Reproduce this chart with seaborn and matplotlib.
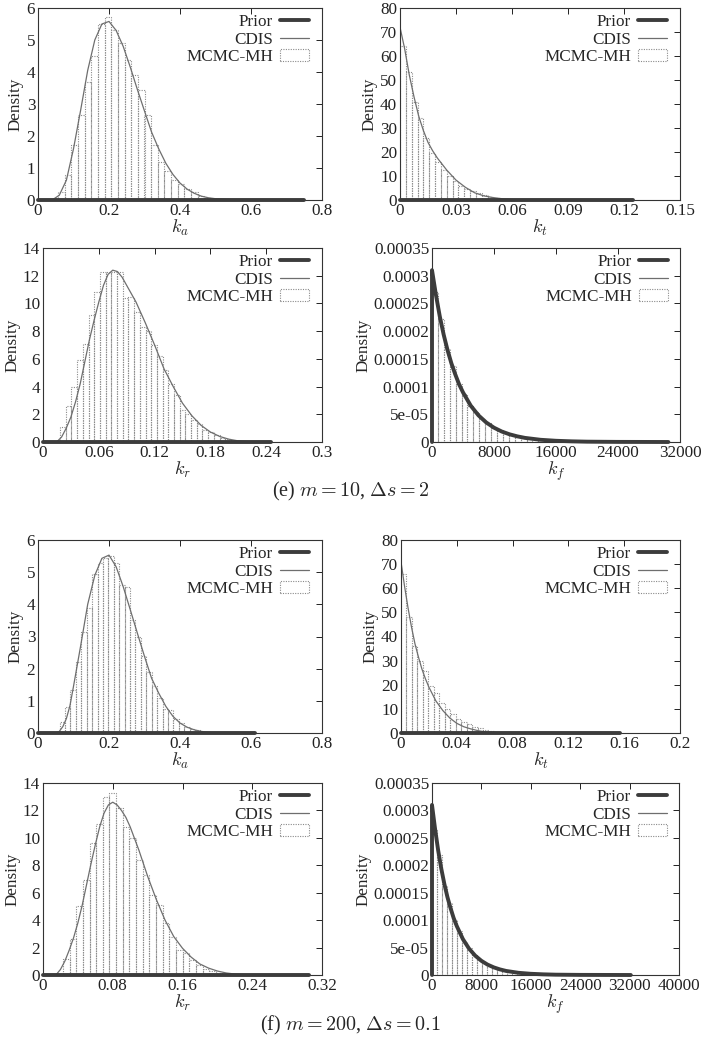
import numpy as np
import pandas as pd
import matplotlib
matplotlib.use('Agg')
import matplotlib.pyplot as plt
from matplotlib.lines import Line2D
from matplotlib.patches import Patch
import seaborn as sns

sns.set_theme(style='white')
plt.rcParams['font.family'] = ['Liberation Serif', 'DejaVu Serif']
plt.rcParams['mathtext.fontset'] = 'cm'

# ---- (e) m = 10, ds = 2 ----
ka_e_binw = 0.01875
ka_e_hist = [0, 0, 0.03, 0.25, 0.78, 1.72, 2.66, 3.7, 4.49, 5.5, 5.72, 5.3, 4.9, 4.38, 3.9,
             3.44, 2.66, 1.72, 1.18, 0.9, 0.63, 0.5, 0.35, 0.25, 0.12, 0.05, 0.02]
ka_e_cdis_x = [0, 0.04, 0.06, 0.08, 0.10, 0.12, 0.14, 0.16, 0.18, 0.20, 0.22, 0.24, 0.26, 0.28,
               0.30, 0.32, 0.34, 0.36, 0.38, 0.40, 0.42, 0.44, 0.46, 0.48, 0.50, 0.55, 0.75]
ka_e_cdis_y = [0, 0.0, 0.15, 0.62, 1.6, 2.8, 4.05, 5.0, 5.5, 5.58, 5.3, 4.8, 4.15, 3.45,
               2.78, 2.12, 1.6, 1.15, 0.8, 0.53, 0.34, 0.21, 0.12, 0.07, 0.04, 0.01, 0]
ka_e_prior_x = [0, 0.75]
ka_e_prior_y = [0, 0]

kt_e_binw = 0.003125
kt_e_hist = [64, 53.5, 41, 34, 26, 19.5, 16, 12.5, 10, 8, 5.8, 4.5, 3.8, 2.8, 2.0, 1.3, 0.8,
             0.5, 0.3, 0.15, 0.05]
kt_e_cdis_x = [0, 0.0025, 0.005, 0.0075, 0.01, 0.0125, 0.015, 0.0175, 0.02, 0.025, 0.03, 0.035,
               0.04, 0.045, 0.05, 0.055, 0.06, 0.07, 0.125]
kt_e_cdis_y = [72, 63, 52, 43, 35, 29, 24, 20.5, 17.5, 12.5, 8.3, 5.3, 3.0, 1.7, 1.0, 0.5,
               0.2, 0.03, 0]
kt_e_prior_x = [0, 0.125]
kt_e_prior_y = [0, 0]

kr_e_binw = 0.006125
kr_e_hist = [0, 0, 0.1, 1.1, 2.6, 4.0, 5.9, 7.1, 9.2, 10.8, 12.3, 12.3, 12.3, 12.3, 10.4, 10.5,
             9.4, 8.3, 8.0, 7.0, 6.2, 5.2, 4.2, 3.4, 2.3, 2.0, 1.6, 1.3, 0.9, 0.7, 0.5, 0.3, 0.2,
             0.1, 0.1, 0.05]
kr_e_cdis_x = [0, 0.015, 0.02, 0.025, 0.03, 0.035, 0.04, 0.045, 0.05, 0.055, 0.06, 0.065, 0.07,
               0.075, 0.08, 0.085, 0.09, 0.095, 0.1, 0.11, 0.12, 0.13, 0.14, 0.15, 0.16, 0.17,
               0.18, 0.19, 0.2, 0.21, 0.22, 0.23, 0.245]
kr_e_cdis_y = [0, 0.02, 0.36, 1.0, 1.8, 2.9, 4.2, 5.8, 7.4, 8.8, 10.1, 11.3, 12.1, 12.4, 12.3,
               11.9, 11.3, 10.7, 10.1, 8.6, 7.0, 5.3, 4.0, 2.8, 1.9, 1.2, 0.72, 0.4, 0.2, 0.08,
               0.03, 0.01, 0]
kr_e_prior_x = [0, 0.245]
kr_e_prior_y = [0, 0]

# k_f densities are given in units of 1e-5
kf_e_binw = 762.5
kf_e_hist = [27.0, 22.2, 16.8, 13.8, 10.5, 8.6, 6.5, 5.4, 4.1, 3.4, 2.5, 2.1, 1.6, 1.3, 1.0,
             0.8, 0.6, 0.5, 0.4, 0.3, 0.25, 0.2, 0.15, 0.1, 0.1, 0.05]
kf_e_prior_x = [0, 0, 500, 1000, 1500, 2000, 2500, 3000, 3500, 4000, 5000, 6000, 7000, 8000,
                9000, 10000, 11000, 12000, 14000, 16000, 18000, 20000, 24000, 30500]
kf_e_prior_y = [0, 31, 26.6, 22.7, 19.4, 16.6, 14.2, 12.2, 10.4, 8.95, 6.55, 4.8, 3.52, 2.58,
                1.89, 1.39, 1.02, 0.74, 0.40, 0.22, 0.12, 0.06, 0.02, 0]

# ---- (f) m = 200, ds = 0.1 ----
ka_f_binw = 0.01525
ka_f_hist = [0, 0, 0, 0.03, 0.35, 0.8, 1.35, 2.2, 3.15, 3.9, 4.95, 5.3, 5.45, 5.5, 5.3, 4.6,
             4.55, 3.5, 3.0, 2.4, 1.9, 1.45, 1.1, 0.75, 0.7, 0.45, 0.3, 0.2, 0.12, 0.08, 0.04, 0.02]
ka_f_cdis_x = [0, 0.05, 0.06, 0.07, 0.08, 0.09, 0.1, 0.12, 0.14, 0.16, 0.18, 0.2, 0.22, 0.24,
               0.26, 0.28, 0.3, 0.32, 0.34, 0.36, 0.38, 0.4, 0.42, 0.44, 0.46, 0.48, 0.5, 0.61]
ka_f_cdis_y = [0, 0, 0.05, 0.2, 0.45, 0.85, 1.45, 2.7, 4.0, 4.9, 5.43, 5.53, 5.17, 4.55, 3.83,
               3.1, 2.38, 1.7, 1.24, 0.83, 0.52, 0.31, 0.18, 0.1, 0.05, 0.02, 0, 0]
ka_f_prior_x = [0, 0.61]
ka_f_prior_y = [0, 0]

kt_f_binw = 0.003925
kt_f_hist = [66, 48, 36, 30, 25.5, 19.5, 16.5, 12.5, 10, 8, 6, 4.6, 3.6, 2.6, 1.9, 1.3, 0.9,
             0.6, 0.35, 0.2, 0.1, 0.05]
kt_f_cdis_x = [0, 0.0025, 0.005, 0.0075, 0.01, 0.0125, 0.015, 0.0175, 0.02, 0.025, 0.03, 0.035,
               0.04, 0.045, 0.05, 0.055, 0.06, 0.07, 0.157]
kt_f_cdis_y = [71, 61, 52, 44, 37, 31.5, 26.5, 22.5, 19, 13.3, 9.3, 6.2, 4.0, 2.6, 1.7, 1.0,
               0.5, 0.1, 0]
kt_f_prior_x = [0, 0.157]
kt_f_prior_y = [0, 0]

kr_f_binw = 0.007625
kr_f_hist = [0, 0, 0.1, 1.2, 2.6, 5.0, 6.9, 9.6, 11.0, 13.0, 13.3, 12.2, 10.8, 10.0, 8.4, 7.3,
             5.8, 5.1, 3.8, 2.8, 1.8, 1.6, 1.1, 0.7, 0.45, 0.3, 0.18, 0.1, 0.05, 0.03]
kr_f_cdis_x = [0, 0.015, 0.02, 0.025, 0.03, 0.035, 0.04, 0.045, 0.05, 0.055, 0.06, 0.065, 0.07,
               0.075, 0.08, 0.085, 0.09, 0.095, 0.1, 0.11, 0.12, 0.13, 0.14, 0.15, 0.16, 0.17,
               0.18, 0.19, 0.2, 0.21, 0.22, 0.23, 0.24, 0.305]
kr_f_cdis_y = [0, 0.02, 0.4, 1.0, 1.8, 2.7, 3.8, 5.1, 6.6, 8.1, 9.5, 10.8, 11.8, 12.4, 12.6,
               12.4, 12.0, 11.5, 10.8, 9.1, 7.2, 5.5, 4.0, 2.8, 1.95, 1.3, 0.8, 0.5, 0.29, 0.15,
               0.07, 0.03, 0.01, 0]
kr_f_prior_x = [0, 0.305]
kr_f_prior_y = [0, 0]

kf_f_binw = 805
kf_f_hist = [26.5, 21.8, 16.3, 13.2, 10.0, 8.1, 6.0, 4.9, 3.6, 3.0, 2.2, 1.8, 1.3, 1.1, 0.8,
             0.65, 0.5, 0.4, 0.3, 0.24, 0.18, 0.14, 0.1, 0.08, 0.06, 0.04]
kf_f_prior_x = [0, 0, 500, 1000, 1500, 2000, 2500, 3000, 3500, 4000, 5000, 6000, 7000, 8000,
                9000, 10000, 11000, 12000, 14000, 16000, 18000, 20000, 24000, 32200]
kf_f_prior_y = [0, 31, 26.6, 22.7, 19.4, 16.6, 14.2, 12.2, 10.4, 8.95, 6.55, 4.8, 3.52, 2.58,
                1.89, 1.39, 1.02, 0.74, 0.40, 0.22, 0.12, 0.06, 0.02, 0]

# ticks
ka_xticks = [0, 0.2, 0.4, 0.6, 0.8]
ka_xlabels = ['0', '0.2', '0.4', '0.6', '0.8']
ka_yticks = [0, 1, 2, 3, 4, 5, 6]
kt_e_xticks = [0, 0.03, 0.06, 0.09, 0.12, 0.15]
kt_e_xlabels = ['0', '0.03', '0.06', '0.09', '0.12', '0.15']
kt_f_xticks = [0, 0.04, 0.08, 0.12, 0.16, 0.2]
kt_f_xlabels = ['0', '0.04', '0.08', '0.12', '0.16', '0.2']
kt_yticks = [0, 10, 20, 30, 40, 50, 60, 70, 80]
kr_e_xticks = [0, 0.06, 0.12, 0.18, 0.24, 0.3]
kr_e_xlabels = ['0', '0.06', '0.12', '0.18', '0.24', '0.3']
kr_f_xticks = [0, 0.08, 0.16, 0.24, 0.32]
kr_f_xlabels = ['0', '0.08', '0.16', '0.24', '0.32']
kr_yticks = [0, 2, 4, 6, 8, 10, 12, 14]
kf_e_xticks = [0, 8000, 16000, 24000, 32000]
kf_f_xticks = [0, 8000, 16000, 24000, 32000, 40000]
kf_yticks = [0, 5e-05, 0.0001, 0.00015, 0.0002, 0.00025, 0.0003, 0.00035]
kf_ylabels = ['0', '5e-05', '0.0001', '0.00015', '0.0002', '0.00025', '0.0003', '0.00035']

PRIOR_C = '#3c3c3c'
CDIS_C = '#6e6e6e'
HIST_C = '#8a8a8a'
FS = 12.3


def panel(rect, hist, binw, cx, cy, px, py, xticks, yticks, xlabel,
          xlabels=None, ylabels=None, scale=1.0):
    ax = fig.add_axes(rect)
    h = np.array(hist, dtype=float) * scale
    edges = [i * binw for i in range(len(h) + 1)]
    df = pd.DataFrame({'x': [e + binw / 2 for e in edges[:-1]], 'w': h})
    sns.histplot(data=df, x='x', weights='w', bins=edges, stat='count', fill=False,
                 color=HIST_C, linewidth=0.8, linestyle=(0, (1, 1.2)), ax=ax)
    sns.lineplot(x=np.array(cx), y=np.array(cy) * scale, color=CDIS_C, linewidth=0.9,
                 sort=False, estimator=None, ax=ax)
    sns.lineplot(x=np.array(px), y=np.array(py) * scale, color=PRIOR_C, linewidth=2.8,
                 sort=False, estimator=None, ax=ax, clip_on=False, zorder=5)
    ax.set_xlim(xticks[0], xticks[-1])
    ax.set_ylim(yticks[0], yticks[-1])
    ax.set_xticks(xticks)
    ax.set_xticklabels(xlabels if xlabels else [str(t) for t in xticks])
    ax.set_yticks(yticks)
    ax.set_yticklabels(ylabels if ylabels else [str(t) for t in yticks])
    ax.tick_params(direction='in', top=True, right=True, length=4, width=0.7,
                   labelsize=FS, pad=2, colors='#222222')
    for s in ax.spines.values():
        s.set_color('#333333')
        s.set_linewidth(0.8)
    ax.set_xlabel(xlabel, fontsize=FS + 1, labelpad=-0.5)
    ax.set_ylabel('Density', fontsize=FS, labelpad=2)
    handles = [Line2D([], [], color=PRIOR_C, lw=2.8),
               Line2D([], [], color=CDIS_C, lw=0.9),
               Patch(facecolor='white', edgecolor=HIST_C, linestyle=(0, (1, 1.2)), lw=0.8)]
    ax.legend(handles, ['Prior', 'CDIS', 'MCMC-MH'], loc='upper right', frameon=False,
              bbox_to_anchor=(0.975, 1.0),
              markerfirst=False, fontsize=FS, handlelength=1.7, handleheight=0.7,
              labelspacing=0.1, handletextpad=0.4, borderaxespad=0.25, borderpad=0.1)
    return ax


fig = plt.figure(figsize=(7.01, 10.5), dpi=100)
W, H = 701, 1050


def r(x0, x1, y0, y1):
    return [x0 / W, 1 - y1 / H, (x1 - x0) / W, (y1 - y0) / H]


panel(r(38, 322, 8, 200), ka_e_hist, ka_e_binw, ka_e_cdis_x, ka_e_cdis_y, ka_e_prior_x,
      ka_e_prior_y, ka_xticks, ka_yticks, '$k_a$', xlabels=ka_xlabels)
panel(r(400, 680, 8, 200), kt_e_hist, kt_e_binw, kt_e_cdis_x, kt_e_cdis_y, kt_e_prior_x,
      kt_e_prior_y, kt_e_xticks, kt_yticks, '$k_t$', xlabels=kt_e_xlabels)
panel(r(43, 322, 248, 442), kr_e_hist, kr_e_binw, kr_e_cdis_x, kr_e_cdis_y, kr_e_prior_x,
      kr_e_prior_y, kr_e_xticks, kr_yticks, '$k_r$', xlabels=kr_e_xlabels)
panel(r(432, 680, 248, 442), kf_e_hist, kf_e_binw, kf_e_prior_x, kf_e_prior_y, kf_e_prior_x,
      kf_e_prior_y, kf_e_xticks, kf_yticks, '$k_f$', ylabels=kf_ylabels, scale=1e-5)

panel(r(38, 322, 540, 733), ka_f_hist, ka_f_binw, ka_f_cdis_x, ka_f_cdis_y, ka_f_prior_x,
      ka_f_prior_y, ka_xticks, ka_yticks, '$k_a$', xlabels=ka_xlabels)
panel(r(401, 680, 540, 733), kt_f_hist, kt_f_binw, kt_f_cdis_x, kt_f_cdis_y, kt_f_prior_x,
      kt_f_prior_y, kt_f_xticks, kt_yticks, '$k_t$', xlabels=kt_f_xlabels)
panel(r(43, 322, 783, 975), kr_f_hist, kr_f_binw, kr_f_cdis_x, kr_f_cdis_y, kr_f_prior_x,
      kr_f_prior_y, kr_f_xticks, kr_yticks, '$k_r$', xlabels=kr_f_xlabels)
panel(r(432, 679, 783, 975), kf_f_hist, kf_f_binw, kf_f_prior_x, kf_f_prior_y, kf_f_prior_x,
      kf_f_prior_y, kf_f_xticks, kf_yticks, '$k_f$', ylabels=kf_ylabels, scale=1e-5)

fig.text(0.5, 1 - 491 / H, r'(e) $m = 10$, $\Delta s = 2$', ha='center', va='center',
         fontsize=14.5)
fig.text(0.5, 1 - 1025 / H, r'(f) $m = 200$, $\Delta s = 0.1$', ha='center', va='center',
         fontsize=14.5)

fig.savefig('out.png', dpi=100)
